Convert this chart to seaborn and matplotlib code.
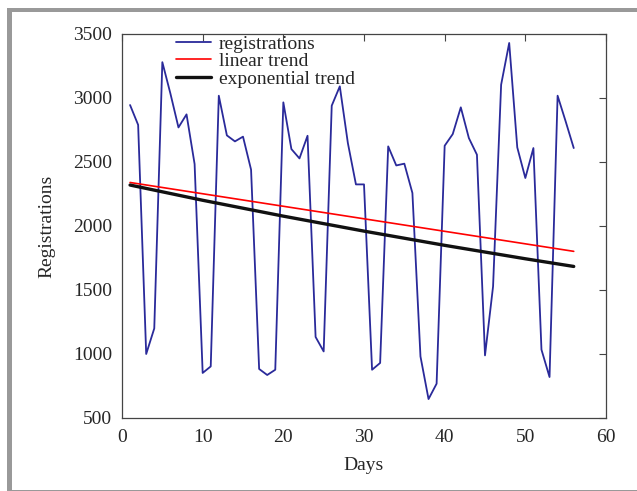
import matplotlib
matplotlib.use("Agg")
import matplotlib.pyplot as plt
import seaborn as sns
import pandas as pd
from matplotlib.patches import Rectangle

# ---- data ----
days = list(range(1, 57))
registrations = [2945, 2790, 1000, 1200, 3280, 3035, 2770, 2872, 2484, 852,
                 903, 3018, 2708, 2661, 2698, 2440, 883, 836, 877, 2966,
                 2601, 2528, 2705, 1133, 1020, 2940, 3091, 2648, 2325, 2325,
                 877, 930, 2622, 2473, 2487, 2258, 981, 648, 768, 2627,
                 2718, 2927, 2687, 2557, 989, 1528, 3104, 3430, 2614, 2375,
                 2609, 1034, 820, 3018, 2817, 2609]
linear_days = [1, 56]
linear_trend = [2340, 1802]
exp_days = [1, 10, 20, 30, 40, 50, 56]
exp_trend = [2320, 2201, 2077, 1960, 1849, 1744, 1684]

x_ticks = [0, 10, 20, 30, 40, 50, 60]
y_ticks = [500, 1000, 1500, 2000, 2500, 3000, 3500]

sns.set_style("white")
plt.rcParams['font.family'] = ['Liberation Serif', 'DejaVu Serif']

W, H = 637, 491
FS = 14
fig = plt.figure(figsize=(W / 100, H / 100), dpi=100)
fig.patch.set_facecolor("white")

# gray screenshot frame
gray = "#999999"
fig.patches.append(Rectangle((7 / W, 0), 5 / W, 1 - 8 / H, transform=fig.transFigure,
                             facecolor=gray, edgecolor="none"))
fig.patches.append(Rectangle((7 / W, 1 - 12 / H), 1 - 7 / W, 4 / H, transform=fig.transFigure,
                             facecolor=gray, edgecolor="none"))
fig.patches.append(Rectangle((7 / W, 0), 1 - 7 / W, 1.5 / H, transform=fig.transFigure,
                             facecolor=gray, edgecolor="none"))

left, right, top, bottom = 122, 606, 34, 418
ax = fig.add_axes([left / W, 1 - bottom / H, (right - left) / W, (bottom - top) / H])

df_reg = pd.DataFrame({"day": days, "value": registrations})
df_lin = pd.DataFrame({"day": linear_days, "value": linear_trend})
df_exp = pd.DataFrame({"day": exp_days, "value": exp_trend})

sns.lineplot(data=df_reg, x="day", y="value", ax=ax, color="#2a2a9a", linewidth=1.3,
             label="registrations")
sns.lineplot(data=df_lin, x="day", y="value", ax=ax, color="#ff0000", linewidth=1.2,
             label="linear trend")
sns.lineplot(data=df_exp, x="day", y="value", ax=ax, color="#111111", linewidth=2.4,
             label="exponential trend")

ax.set_xlim(0, 60)
ax.set_ylim(500, 3500)
ax.set_xticks(x_ticks)
ax.set_yticks(y_ticks)
ax.set_xlabel("Days", fontsize=FS, labelpad=8)
ax.set_ylabel("Registrations", fontsize=FS, labelpad=13)

for s in ax.spines.values():
    s.set_visible(True)
    s.set_color("#444444")
    s.set_linewidth(0.9)
ax.tick_params(axis="both", direction="in", length=5, width=0.8, color="#444444",
               labelsize=FS, top=True, right=True)
ax.tick_params(axis="x", pad=8)
ax.tick_params(axis="y", pad=7)

leg = ax.legend(loc="upper left", bbox_to_anchor=(176 / W, 1 - 35 / H),
                bbox_transform=fig.transFigure, frameon=False, fontsize=FS,
                borderpad=0, labelspacing=0.0, handlelength=1.8, handletextpad=0.4,
                borderaxespad=0)

fig.savefig("out.png", dpi=100)
